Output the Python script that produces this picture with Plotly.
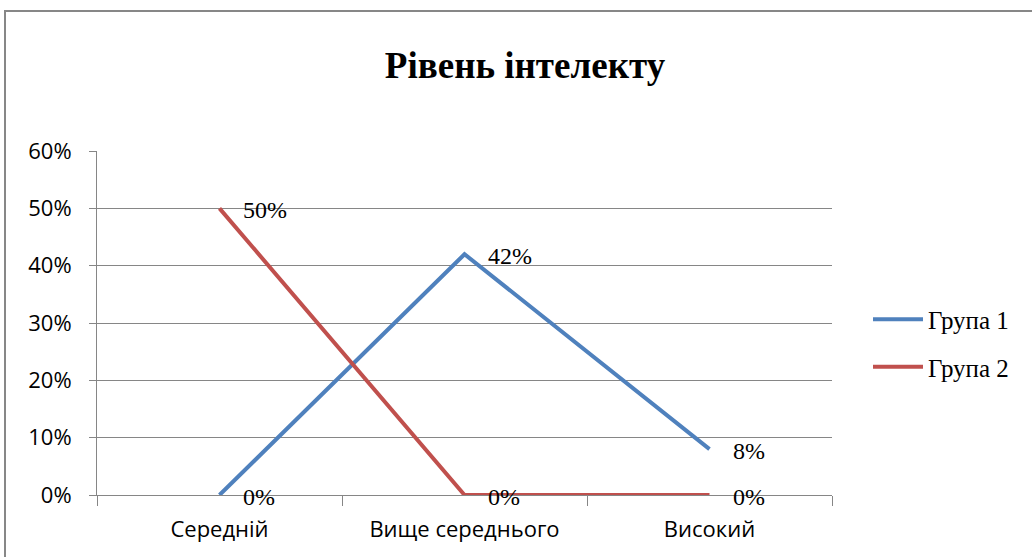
import plotly.graph_objects as go

categories = ["Середній", "Вище середнього", "Високий"]
group1 = [0.0, 0.42, 0.08]
group2 = [0.50, 0.0, 0.0]
series_names = ["Група 1", "Група 2"]
y_ticks = [0, 0.1, 0.2, 0.3, 0.4, 0.5, 0.6]
y_tick_labels = ["0%", "10%", "20%", "30%", "40%", "50%", "60%"]
title = "Рівень інтелекту"

W, H = 1032, 557
L = 97
T = 151
pw = 735
ph = 344
R = W - L - pw
B = H - T - ph

colors = ["#4F81BD", "#C0504D"]

fig = go.Figure()
annotations = []
for i, (name, vals) in enumerate(zip(series_names, [group1, group2])):
    fig.add_trace(go.Scatter(
        x=categories, y=vals, name=name, mode="lines", legendgroup=f"g{i}",
        line=dict(color=colors[i], width=4),
    ))
    for c, v in zip(categories, vals):
        annotations.append(dict(
            x=c, y=v, xref="x", yref="y", text=f"{round(v*100)}%", showarrow=False,
            xanchor="left", yanchor="middle", xshift=21, yshift=-2,
            font=dict(family="Liberation Serif", size=24, color="#000000"),
        ))

fig.update_layout(
    width=W, height=H,
    margin=dict(l=L, r=R, t=T, b=B, autoexpand=False),
    paper_bgcolor="white", plot_bgcolor="white",
    annotations=annotations,
    title=dict(text=f"<b>{title}</b>", x=525 / W, xanchor="center", y=1 - 65 / H, yanchor="middle",
               font=dict(family="Liberation Serif", size=37, color="#000000")),
    showlegend=True,
    legend=dict(x=(868 - L) / pw, xanchor="left", y=1 - (343 - T) / ph, yanchor="middle",
                font=dict(family="Liberation Serif", size=25, color="#000000"),
                tracegroupgap=12, itemwidth=50, bgcolor="rgba(0,0,0,0)"),
    xaxis=dict(type="category", range=[-0.5, 2.5], showgrid=False, showline=True, linecolor="#868686", linewidth=1,
               ticks="outside", tickson="boundaries", ticklen=10, tickcolor="#868686",
               ticklabelstandoff=15,
               tickfont=dict(family="Open Sans", size=22, color="#000000"), zeroline=False),
    yaxis=dict(range=[0, 0.6], tickvals=y_ticks, ticktext=y_tick_labels, showgrid=True, gridcolor="#868686",
               gridwidth=1, showline=True, linecolor="#868686", linewidth=1, ticks="outside", ticklen=7,
               tickcolor="#868686", ticklabelstandoff=13,
               tickfont=dict(family="Open Sans", size=22, color="#000000"),
               zeroline=False),
)

fig.add_shape(type="rect", xref="paper", yref="paper",
              x0=(5 - L) / pw, x1=(1045 - L) / pw, y0=-(H + 20 - T - ph) / ph, y1=1 + (T - 11) / ph,
              line=dict(color="#878787", width=2), fillcolor="rgba(0,0,0,0)", layer="below")

fig.write_html("out.html", config={"displayModeBar": False},
               post_script="document.body.style.margin='0px';document.body.style.padding='0px';")
